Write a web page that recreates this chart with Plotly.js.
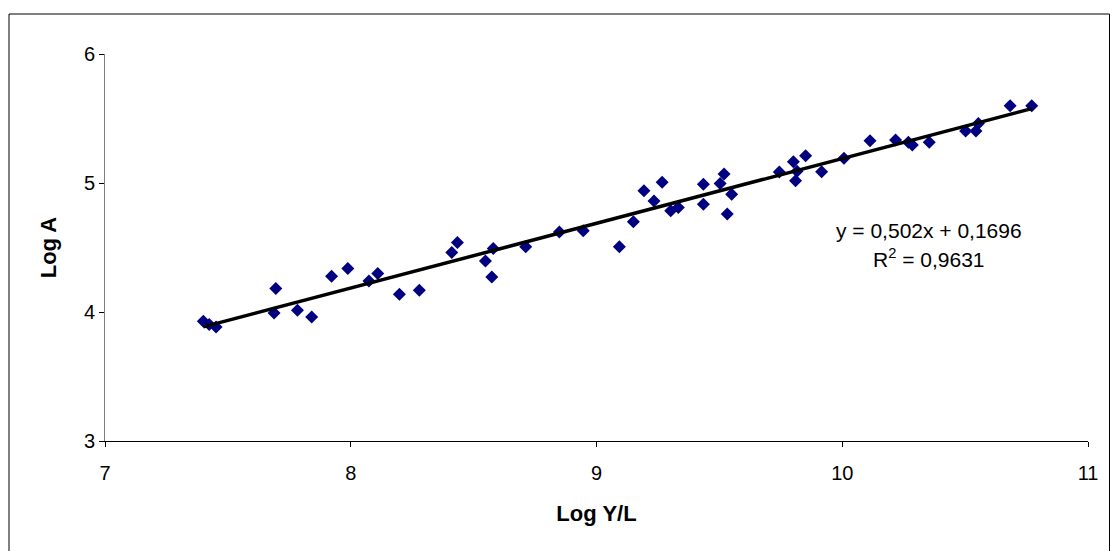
<!DOCTYPE html>
<html>
<head>
<meta charset="utf-8">
<script src="https://cdn.plot.ly/plotly-3.0.1.min.js"></script>
<style>
html,body{margin:0;padding:0;background:#fff;}
#chart{width:1110px;height:551px;}
</style>
</head>
<body>
<div id="chart"></div>
<script>
// Data
const logYL = [7.400,7.424,7.452,7.695,7.688,7.783,7.841,7.922,7.988,8.074,8.110,8.198,8.279,8.411,8.434,8.548,8.574,8.580,8.712,8.849,8.946,9.093,9.150,9.193,9.234,9.267,9.302,9.333,9.435,9.435,9.503,9.519,9.532,9.550,9.744,9.801,9.810,9.816,9.851,9.916,10.007,10.113,10.217,10.269,10.285,10.354,10.502,10.544,10.554,10.683,10.771];
const logA  = [3.929,3.903,3.884,4.182,3.993,4.014,3.962,4.278,4.337,4.241,4.299,4.138,4.169,4.462,4.539,4.396,4.272,4.493,4.505,4.621,4.629,4.505,4.699,4.939,4.860,5.005,4.784,4.811,4.991,4.836,4.997,5.069,4.759,4.912,5.085,5.164,5.017,5.092,5.211,5.087,5.191,5.327,5.333,5.315,5.294,5.315,5.403,5.403,5.462,5.599,5.599];
const slope = 0.502;
const intercept = 0.1696;
const rSquared = "0,9631";
const equationText = "y = 0,502x + 0,1696";
const xTicks = [7,8,9,10,11];
const yTicks = [3,4,5,6];

const xMin = Math.min(...logYL), xMax = Math.max(...logYL);
const trendX = [xMin, xMax];
const trendY = trendX.map(v => slope * v + intercept);

const font = "Liberation Sans, Arial, sans-serif";

const traces = [
  {
    x: logYL, y: logA, type: 'scatter', mode: 'markers',
    marker: {symbol: 'diamond', size: 10, color: '#000080', line: {width: 0}},
    hoverinfo: 'x+y'
  },
  {
    x: trendX, y: trendY, type: 'scatter', mode: 'lines',
    line: {color: '#000000', width: 3.5},
    hoverinfo: 'skip'
  }
];

const layout = {
  width: 1110, height: 551,
  margin: {l: 105, r: 22, t: 54, b: 110},
  paper_bgcolor: '#ffffff', plot_bgcolor: '#ffffff',
  showlegend: false,
  font: {family: font, size: 20, color: '#000'},
  xaxis: {
    range: [7, 11], tickvals: xTicks, ticktext: xTicks.map(String),
    showgrid: false, zeroline: false,
    showline: true, linecolor: '#000', linewidth: 1,
    ticks: 'outside', ticklen: 5, tickcolor: '#000', tickwidth: 1,
    tickfont: {family: font, size: 20, color: '#000'},
    ticklabelstandoff: 9,
    title: {text: '<b>Log Y/L</b>', font: {family: font, size: 22, color: '#000'}, standoff: 22},
    automargin: false
  },
  yaxis: {
    range: [3, 6], tickvals: yTicks, ticktext: yTicks.map(String),
    showgrid: false, zeroline: false,
    showline: true, linecolor: '#808080', linewidth: 1,
    ticks: 'outside', ticklen: 5, tickcolor: '#000', tickwidth: 1,
    tickfont: {family: font, size: 20, color: '#000'},
    title: {text: '<b>Log A</b>', font: {family: font, size: 22, color: '#000'}, standoff: 21},
    automargin: false
  },
  annotations: [
    {xref: 'paper', yref: 'paper', x: 0.838, y: 0.545, text: equationText, showarrow: false,
     xanchor: 'center', yanchor: 'middle', font: {family: font, size: 21, color: '#000'}},
    {xref: 'paper', yref: 'paper', x: 0.838, y: 0.473, text: 'R<sup>2</sup> = ' + rSquared, showarrow: false,
     xanchor: 'center', yanchor: 'middle', font: {family: font, size: 21, color: '#000'}}
  ],
  shapes: [
    {type: 'rect', xref: 'paper', yref: 'paper',
     x0: (9 - 105) / 983, x1: (1109.5 - 105) / 983,
     y0: (441 - 560) / 387, y1: (441 - 14) / 387,
     line: {color: '#000', width: 1}, fillcolor: 'rgba(0,0,0,0)', layer: 'above'}
  ]
};

Plotly.newPlot('chart', traces, layout, {displayModeBar: false, staticPlot: true});
</script>
</body>
</html>
